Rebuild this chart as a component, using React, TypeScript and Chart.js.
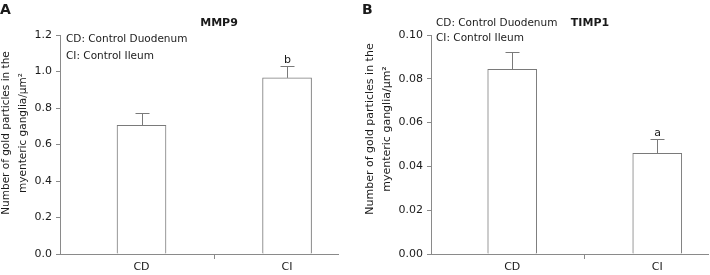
import React, { useEffect, useRef } from "react";
import { Chart, registerables } from "chart.js";

Chart.register(...registerables);

// ---- data ----
const categories = ["CD", "CI"];
const mmp9Means = [0.705, 0.965];
const mmp9Errors = [0.068, 0.063];
const mmp9Sig = ["", "b"];
const mmp9Ticks = { max: 1.2, step: 0.2, decimals: 1 };

const timp1Means = [0.0843, 0.046];
const timp1Errors = [0.0079, 0.0065];
const timp1Sig = ["", "a"];
const timp1Ticks = { max: 0.1, step: 0.02, decimals: 2 };

const legendLines = ["CD: Control Duodenum", "CI: Control Ileum"];
const yTitleLines = ["Number of gold particles in the", "myenteric ganglia/\u03bcm\u00b2"];

const FONT = "DejaVu Sans, Verdana, sans-serif";
const AXIS = "#8a8a8a";
const BAR_BORDER = "#7a7a7a";
const TEXT = "#1a1a1a";

type Panel = {
  letter: string;
  title: string;
  means: number[];
  errors: number[];
  sig: string[];
  ticks: { max: number; step: number; decimals: number };
  yWidth: number;
  padRight: number;
  titleX: number;
  legendX: number;
  legendY: number[];
  yTitleX: number[];
  yTitleY: number;
  yTitleSize: number;
  letterX: number;
};

const panels: Panel[] = [
  {
    letter: "A",
    title: "MMP9",
    means: mmp9Means,
    errors: mmp9Errors,
    sig: mmp9Sig,
    ticks: mmp9Ticks,
    yWidth: 60,
    padRight: 17,
    titleX: 219,
    legendX: 66,
    legendY: [39.5, 56],
    yTitleX: [6.5, 23.5],
    yTitleY: 133,
    yTitleSize: 10.5,
    letterX: 0,
  },
  {
    letter: "B",
    title: "TIMP1",
    means: timp1Means,
    errors: timp1Errors,
    sig: timp1Sig,
    ticks: timp1Ticks,
    yWidth: 76,
    padRight: 2,
    titleX: 235,
    legendX: 81,
    legendY: [23, 38.5],
    yTitleX: [15, 32.5],
    yTitleY: 129,
    yTitleSize: 11,
    letterX: 7,
  },
];

function PanelChart({ p }: { p: Panel }) {
  const ref = useRef<HTMLCanvasElement | null>(null);
  useEffect(() => {
    if (!ref.current) return;
    const annot = {
      id: "annot" + p.letter,
      afterDatasetsDraw(chart: any) {
        const ctx = chart.ctx;
        const xs = chart.scales.x;
        const ys = chart.scales.y;
        ctx.save();
        ctx.strokeStyle = BAR_BORDER;
        ctx.lineWidth = 1;
        p.means.forEach((m, i) => {
          const x = Math.round(xs.getPixelForValue(i)) + 0.5;
          const yb = ys.getPixelForValue(m);
          const yt = Math.round(ys.getPixelForValue(m + p.errors[i])) + 0.5;
          ctx.beginPath();
          ctx.moveTo(x, yb);
          ctx.lineTo(x, yt);
          ctx.moveTo(x - 7, yt);
          ctx.lineTo(x + 7, yt);
          ctx.stroke();
          if (p.sig[i]) {
            ctx.fillStyle = TEXT;
            ctx.font = `11px ${FONT}`;
            ctx.textAlign = "center";
            ctx.textBaseline = "alphabetic";
            ctx.fillText(p.sig[i], x, yt - 4);
          }
        });
        ctx.restore();
      },
      afterDraw(chart: any) {
        const ctx = chart.ctx;
        ctx.save();
        ctx.fillStyle = TEXT;
        ctx.textBaseline = "middle";
        // panel letter
        ctx.font = `bold 14px ${FONT}`;
        ctx.textAlign = "left";
        ctx.fillText(p.letter, p.letterX, 10);
        // title
        ctx.font = `bold 11px ${FONT}`;
        ctx.textAlign = "center";
        ctx.fillText(p.title, p.titleX, 23);
        // legend text
        ctx.font = `10.5px ${FONT}`;
        ctx.textAlign = "left";
        legendLines.forEach((t, i) => ctx.fillText(t, p.legendX, p.legendY[i]));
        // y title
        ctx.font = `${p.yTitleSize}px ${FONT}`;
        ctx.textAlign = "center";
        yTitleLines.forEach((t, i) => {
          ctx.save();
          ctx.translate(p.yTitleX[i], p.yTitleY);
          ctx.rotate(-Math.PI / 2);
          ctx.fillText(t, 0, 0);
          ctx.restore();
        });
        ctx.restore();
      },
    };

    const chart = new Chart(ref.current, {
      type: "bar",
      data: {
        datasets: [
          {
            data: p.means.map((m, i) => ({ x: i, y: m })),
            backgroundColor: "#ffffff",
            borderColor: BAR_BORDER,
            borderWidth: 1,
            barThickness: 49,
          } as any,
        ],
      },
      options: {
        animation: false,
        responsive: false,
        devicePixelRatio: 1,
        layout: { padding: { top: 35, right: p.padRight, left: 0, bottom: 0 } },
        plugins: { legend: { display: false }, tooltip: { enabled: false }, title: { display: false } },
        scales: {
          x: {
            type: "linear",
            min: -0.56,
            max: 1.35,
            offset: false,
            afterBuildTicks: (s: any) => {
              s.ticks = [{ value: 0 }, { value: 0.5 }, { value: 1 }];
            },
            afterFit: (s: any) => {
              s.height = 21;
            },
            ticks: {
              autoSkip: false,
              maxRotation: 0,
              padding: 2,
              color: TEXT,
              font: { family: FONT, size: 11 },
              callback: (v: any) => (Number.isInteger(v) ? categories[v] : ""),
            },
            grid: {
              offset: false,
              drawOnChartArea: false,
              tickLength: 5,
              tickColor: (c: any) => (c.tick && c.tick.value === 0.5 ? AXIS : "rgba(0,0,0,0)"),
            },
            border: { color: AXIS },
          },
          y: {
            min: 0,
            max: p.ticks.max,
            afterFit: (s: any) => {
              s.width = p.yWidth;
            },
            ticks: {
              stepSize: p.ticks.step,
              padding: 4,
              color: TEXT,
              font: { family: FONT, size: 11 },
              callback: (v: any) => Number(v).toFixed(p.ticks.decimals),
            },
            grid: { drawOnChartArea: false, tickLength: 4, tickColor: AXIS },
            border: { color: AXIS },
          },
        },
      } as any,
      plugins: [annot],
    });
    return () => chart.destroy();
  }, [p]);
  return <canvas ref={ref} width={355} height={275} style={{ display: "block", width: 355, height: 275 }} />;
}

export default function App() {
  return (
    <div style={{ position: "fixed", left: 0, top: 0, width: 710, height: 275, background: "#fff", display: "flex" }}>
      {panels.map((p) => (
        <PanelChart key={p.letter} p={p} />
      ))}
    </div>
  );
}
